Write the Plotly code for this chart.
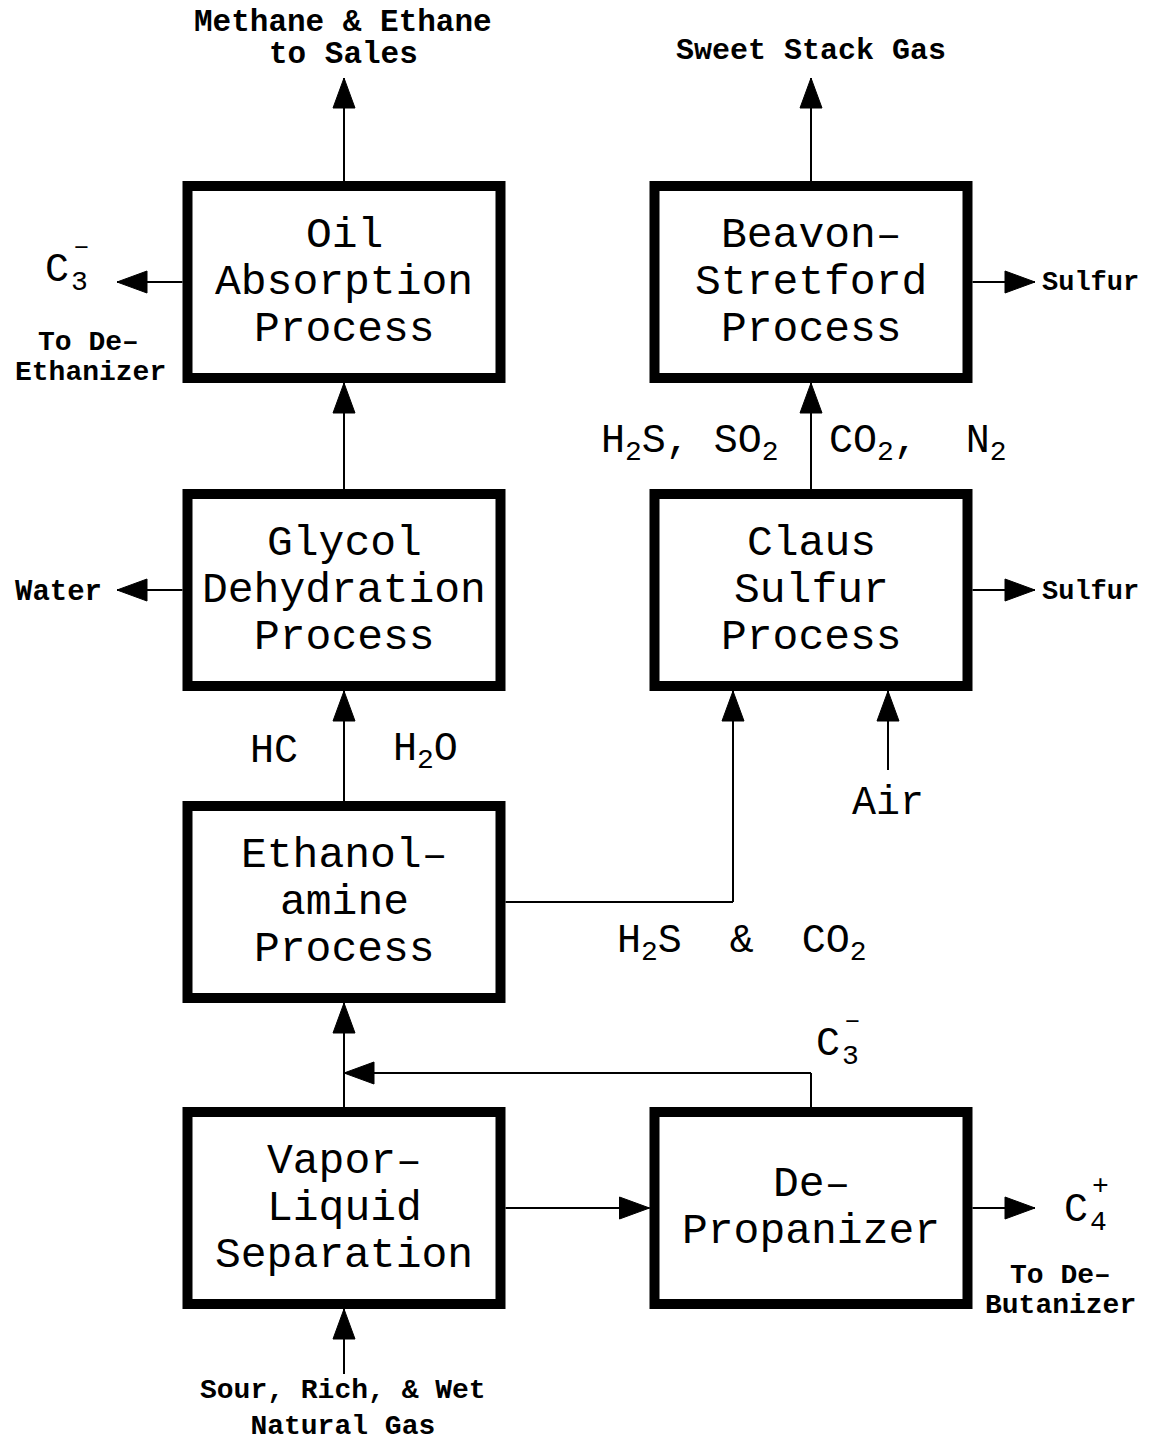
import plotly.graph_objects as go

# ---------------- data ----------------
unit_ids = ["oil", "glycol", "amine", "vls", "beavon", "claus", "deprop"]
unit_lines = [
    ["Oil", "Absorption", "Process"],
    ["Glycol", "Dehydration", "Process"],
    ["Ethanol\u2013", "amine", "Process"],
    ["Vapor\u2013", "Liquid", "Separation"],
    ["Beavon\u2013", "Stretford", "Process"],
    ["Claus", "Sulfur", "Process"],
    ["De\u2013", "Propanizer"],
]
unit_col = [0, 0, 0, 0, 1, 1, 1]
unit_row = [0, 1, 2, 3, 0, 1, 3]

# stream labels (text only)
small_labels = ["Methane & Ethane", "to Sales", "Sweet Stack Gas", "To De\u2013", "Ethanizer",
                "Water", "Sulfur", "Sulfur", "To De\u2013", "Butanizer"]
feed_label = "Sour, Rich, & Wet<br>Natural Gas"
big_labels = ["HC", "H<sub>2</sub>O", "Air", "H<sub>2</sub>S\u00a0 &\u00a0 CO<sub>2</sub>",
              "H<sub>2</sub>S,\u00a0SO<sub>2</sub>", "CO<sub>2</sub>,\u00a0 N<sub>2</sub>"]

# ---------------- layout geometry ----------------
W, H = 1149, 1445
col_x = [344, 811]
row_y = [282, 590, 902, 1208]
BW, BH = 323, 202
BORDER = 10
FONT_BOX = "Liberation Mono"
BLACK = "black"

shapes = []
annotations = []

def box_geom(i):
    cx = col_x[unit_col[i]]
    cy = row_y[unit_row[i]]
    return cx, cy, cx - BW / 2, cx + BW / 2, cy - BH / 2, cy + BH / 2

geom = {uid: box_geom(i) for i, uid in enumerate(unit_ids)}

# boxes
for i, uid in enumerate(unit_ids):
    cx, cy, x0, x1, y0, y1 = geom[uid]
    h = BORDER / 2
    shapes.append(dict(type="rect", x0=x0 + h, x1=x1 - h, y0=y0 + h, y1=y1 - h,
                       line=dict(color=BLACK, width=BORDER), fillcolor="white", layer="below"))
    lines = unit_lines[i]
    n = len(lines)
    spacing = 47
    start = cy - spacing * (n - 1) / 2
    for k, t in enumerate(lines):
        annotations.append(dict(x=cx, y=start + k * spacing, text=t, showarrow=False,
                                xanchor="center", yanchor="middle",
                                font=dict(family=FONT_BOX, size=43, color=BLACK)))

def line(p, q):
    shapes.append(dict(type="line", x0=p[0], y0=p[1], x1=q[0], y1=q[1],
                       line=dict(color=BLACK, width=2)))

def head(tip, direction):
    x, y = tip
    L, hw = 30, 11
    if direction == "up":
        pts = [(x, y), (x - hw, y + L), (x + hw, y + L)]
    elif direction == "down":
        pts = [(x, y), (x - hw, y - L), (x + hw, y - L)]
    elif direction == "left":
        pts = [(x, y), (x + L, y - hw), (x + L, y + hw)]
    else:
        pts = [(x, y), (x - L, y - hw), (x - L, y + hw)]
    path = "M {} {} L {} {} L {} {} Z".format(*pts[0], *pts[1], *pts[2])
    shapes.append(dict(type="path", path=path, fillcolor=BLACK, line=dict(color=BLACK, width=1)))

def arrow(points, direction):
    for a, b in zip(points[:-1], points[1:]):
        line(a, b)
    head(points[-1], direction)

def top(u):
    g = geom[u]; return (g[0], g[4])
def bottom(u):
    g = geom[u]; return (g[0], g[5])
def left(u):
    g = geom[u]; return (g[2], g[1])
def right(u):
    g = geom[u]; return (g[3], g[1])

OUT_TOP = 78
OUT_LEFT = 117
OUT_RIGHT = 1035

# streams
arrow([top("oil"), (col_x[0], OUT_TOP)], "up")
arrow([left("oil"), (OUT_LEFT, left("oil")[1])], "left")
arrow([top("glycol"), bottom("oil")], "up")
arrow([left("glycol"), (OUT_LEFT, left("glycol")[1])], "left")
arrow([top("amine"), bottom("glycol")], "up")
acid_x = 733
arrow([right("amine"), (acid_x, right("amine")[1]), (acid_x, bottom("claus")[1])], "up")
arrow([top("vls"), bottom("amine")], "up")
arrow([right("vls"), left("deprop")], "right")
recycle_y = 1073
arrow([top("deprop"), (col_x[1], recycle_y), (col_x[0], recycle_y)], "left")
arrow([right("deprop"), (OUT_RIGHT, right("deprop")[1])], "right")
arrow([top("claus"), bottom("beavon")], "up")
arrow([right("claus"), (OUT_RIGHT, right("claus")[1])], "right")
arrow([right("beavon"), (OUT_RIGHT, right("beavon")[1])], "right")
arrow([top("beavon"), (col_x[1], OUT_TOP)], "up")
air_x = 888
arrow([(air_x, 770), (air_x, bottom("claus")[1])], "up")
arrow([(col_x[0], 1374), bottom("vls")], "up")

# text helpers
def txt(t, x, y, size, bold=False, anchor="middle"):
    annotations.append(dict(x=x, y=y, text=("<b>%s</b>" % t) if bold else t, showarrow=False,
                            xanchor="center", yanchor=anchor,
                            font=dict(family=FONT_BOX, size=size, color=BLACK)))

small_pos = [(343, 22), (343, 54), (811, 51), (88, 342), (90, 372),
             (58, 592), (1090, 283), (1090, 592), (1060, 1275), (1060, 1305)]
small_size = [31, 31, 30, 28, 28, 29, 27, 27, 28, 28]
for t, (x, y), s in zip(small_labels, small_pos, small_size):
    txt(t, x, y, s, bold=True)
txt(feed_label, 343, 1444, 28, bold=True, anchor="bottom")

BIG = 40
big_pos = [(274, 751), (425, 751), (888, 803), (742, 943), (690, 443), (918, 443)]
for t, (x, y) in zip(big_labels, big_pos):
    txt(t, x, y, BIG)

# stacked sub/superscript species
def species(base, sub, sup, x, y):
    txt(base, x, y, BIG)
    txt(sub, x + 22, y + 12, 28)
    txt(sup, x + 24, y - 24, 28)

species("C", "3", "\u2013", 57, 270)
species("C", "3", "\u2013", 828, 1044)
species("C", "4", "+", 1076, 1210)

fig = go.Figure()
fig.update_layout(
    width=W, height=H, margin=dict(l=0, r=0, t=0, b=0),
    paper_bgcolor="white", plot_bgcolor="white",
    xaxis=dict(range=[0, W], visible=False, fixedrange=True),
    yaxis=dict(range=[H, 0], visible=False, fixedrange=True),
    shapes=shapes, annotations=annotations, showlegend=False,
)
fig.write_html("out.html", config={"displayModeBar": False},
               post_script="document.body.style.margin='0';document.body.style.overflow='hidden';")
